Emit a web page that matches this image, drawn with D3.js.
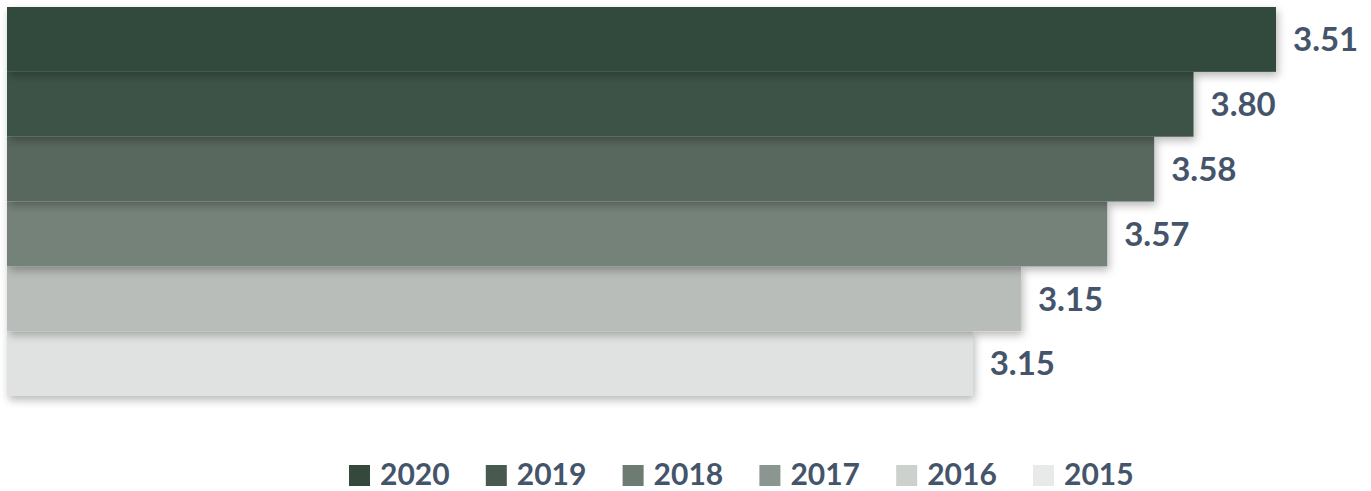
<!DOCTYPE html>
<html>
<head>
<meta charset="utf-8">
<script src="https://cdn.jsdelivr.net/npm/d3@7.9.0/dist/d3.min.js"></script>
<style>
  body { margin: 0; background: #fff; }
  svg { display: block; font-family: Lato, "Open Sans", sans-serif; }
</style>
</head>
<body>
<svg id="chart" width="1371" height="491"></svg>
<script>
const years = ['2020', '2019', '2018', '2017', '2016', '2015'];
// labels printed on the chart
const labels = ['3.51', '3.80', '3.58', '3.57', '3.15', '3.15'];
// bar lengths as drawn (relative, 2020 = 100)
const barValues = [100, 93.5, 90.4, 86.7, 79.9, 76.1];
const barColors = ['#33493d', '#3e5247', '#59685f', '#74827a', '#b8bdba', '#e0e2e1'];
const legendColors = ['#34493c', '#485a4f', '#6d7b73', '#8a968f', '#cdd1ce', '#e8eae9'];

const svg = d3.select('#chart');
const textColor = '#44546a';

let defs = svg.append('defs');
defs.append('filter')
    .attr('id', 'shadow')
    .attr('x', '-5%').attr('y', '-20%')
    .attr('width', '110%').attr('height', '160%')
  .append('feDropShadow')
    .attr('dx', 2).attr('dy', 4)
    .attr('stdDeviation', 4)
    .attr('flood-color', '#000')
    .attr('flood-opacity', 0.28);

let x = d3.scaleLinear().domain([0, 100]).range([7, 1276]);
let y = d3.scaleBand().domain(years).range([7, 396]).padding(0);

let data = years.map((yr, i) => ({ year: yr, value: barValues[i], label: labels[i], color: barColors[i] }));

// draw bottom first so each bar's shadow falls on the one below
let bars = svg.append('g');
data.slice().reverse().forEach((d) => {
    bars.append('rect')
        .attr('x', x(0))
        .attr('y', y(d.year))
        .attr('width', x(d.value) - x(0))
        .attr('height', y.bandwidth())
        .attr('fill', d.color)
        .attr('filter', 'url(#shadow)');
});

svg.append('g').selectAll('text')
    .data(data)
    .join('text')
    .attr('x', (d) => x(d.value) + 17)
    .attr('y', (d) => y(d.year) + y.bandwidth() / 2)
    .attr('dy', '0.36em')
    .attr('fill', textColor)
    .attr('font-size', 33)
    .attr('font-weight', 'bold')
    .text((d) => d.label);

// legend
let legend = svg.append('g');
let legendX = d3.scalePoint().domain(years).range([349, 1033]);
years.forEach((yr, i) => {
    let g = legend.append('g').attr('transform', `translate(${legendX(yr)},465)`);
    g.append('rect')
        .attr('width', 21).attr('height', 21)
        .attr('fill', legendColors[i]);
    g.append('text')
        .attr('x', 31)
        .attr('y', 20)
        .attr('fill', textColor)
        .attr('font-size', 30)
        .attr('font-weight', 'bold')
        .text(yr);
});
</script>
</body>
</html>
